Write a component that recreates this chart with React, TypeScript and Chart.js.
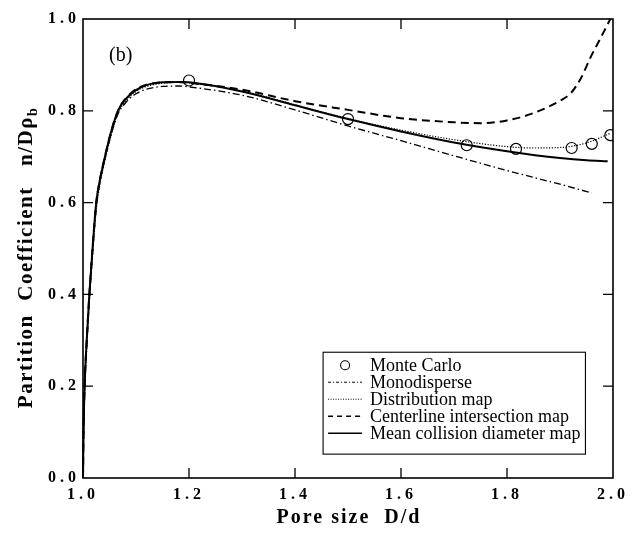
import React, { useEffect, useRef } from "react";
import { Chart, registerables } from "chart.js";

Chart.register(...registerables);

// ---- data ----
const xTickValues = [1.0, 1.2, 1.4, 1.6, 1.8, 2.0];
const yTickValues = [0.0, 0.2, 0.4, 0.6, 0.8, 1.0];

const monteCarloX = [1.2, 1.5, 1.724, 1.817, 1.922, 1.96, 1.995];
const monteCarloY = [0.866, 0.782, 0.725, 0.717, 0.719, 0.728, 0.747];

const monoX = [1.0, 1.001, 1.003, 1.007, 1.012, 1.018, 1.025, 1.032, 1.04, 1.052, 1.066, 1.08, 1.1, 1.12, 1.15, 1.18, 1.2, 1.3, 1.4, 1.5, 1.6, 1.7, 1.8, 1.9, 1.96];
const monoY = [0.0, 0.09, 0.19, 0.29, 0.39, 0.49, 0.59, 0.645, 0.688, 0.744, 0.793, 0.817, 0.837, 0.847, 0.853, 0.854, 0.852, 0.834, 0.802, 0.767, 0.735, 0.702, 0.67, 0.64, 0.621];

const distX = [1.0, 1.001, 1.003, 1.007, 1.012, 1.018, 1.025, 1.032, 1.04, 1.052, 1.066, 1.08, 1.1, 1.12, 1.15, 1.18, 1.2, 1.3, 1.4, 1.5, 1.6, 1.7, 1.8, 1.85, 1.9, 1.95, 1.995];
const distY = [0.0, 0.08, 0.18, 0.28, 0.385, 0.485, 0.585, 0.64, 0.685, 0.742, 0.795, 0.82, 0.842, 0.853, 0.86, 0.862, 0.861, 0.843, 0.813, 0.783, 0.758, 0.737, 0.722, 0.719, 0.72, 0.73, 0.751];

const centerX = [1.0, 1.001, 1.003, 1.007, 1.012, 1.018, 1.025, 1.032, 1.04, 1.052, 1.066, 1.08, 1.1, 1.12, 1.15, 1.18, 1.2, 1.3, 1.4, 1.5, 1.6, 1.7, 1.75, 1.8, 1.85, 1.9, 1.92, 1.94, 1.957, 1.975, 1.995];
const centerY = [0.0, 0.1, 0.2, 0.3, 0.4, 0.5, 0.6, 0.65, 0.693, 0.75, 0.8, 0.826, 0.847, 0.857, 0.862, 0.863, 0.861, 0.846, 0.821, 0.802, 0.784, 0.775, 0.773, 0.779, 0.795, 0.822, 0.838, 0.872, 0.915, 0.955, 1.0];

const meanX = [1.0, 1.001, 1.003, 1.007, 1.012, 1.018, 1.025, 1.032, 1.04, 1.052, 1.066, 1.08, 1.1, 1.12, 1.15, 1.18, 1.2, 1.3, 1.4, 1.5, 1.6, 1.7, 1.8, 1.9, 1.95, 1.99];
const meanY = [0.0, 0.1, 0.2, 0.3, 0.4, 0.5, 0.6, 0.65, 0.693, 0.75, 0.8, 0.825, 0.845, 0.856, 0.862, 0.863, 0.862, 0.842, 0.812, 0.782, 0.755, 0.731, 0.712, 0.697, 0.692, 0.69];

const legendLabels = [
  "Monte Carlo",
  "Monodisperse",
  "Distribution map",
  "Centerline intersection map",
  "Mean collision diameter map",
];

const xTitle = "Pore size  D/d";
const yTitleMain = "Partition  Coefficient   n/D\u03c1";
const yTitleSub = "b";
const panelLabel = "(b)";

const SERIF = "'Liberation Serif', 'DejaVu Serif', serif";

const pts = (xs: number[], ys: number[]) => xs.map((x, i) => ({ x, y: ys[i] }));

const paperPlugin = {
  id: "paper",
  beforeDraw(chart: any) {
    const ctx = chart.ctx;
    ctx.save();
    ctx.fillStyle = "#ffffff";
    ctx.fillRect(0, 0, chart.width, chart.height);
    ctx.restore();
    ctx.letterSpacing = "4px";
  },
  beforeDatasetsDraw(chart: any) {
    chart.ctx.letterSpacing = "0px";
  },
  afterDraw(chart: any) {
    const ctx = chart.ctx;
    ctx.letterSpacing = "0px";
    const { left, right, top, bottom } = chart.chartArea;
    const xs = chart.scales.x;
    const ys = chart.scales.y;
    ctx.save();
    ctx.strokeStyle = "#000";
    ctx.fillStyle = "#000";
    // frame
    ctx.lineWidth = 1.6;
    ctx.strokeRect(left, top, right - left, bottom - top);
    // inward ticks on all four sides
    const tl = 10;
    ctx.lineWidth = 1.3;
    ctx.beginPath();
    xTickValues.slice(1, -1).forEach((v) => {
      const p = xs.getPixelForValue(v);
      ctx.moveTo(p, bottom);
      ctx.lineTo(p, bottom - tl);
      ctx.moveTo(p, top);
      ctx.lineTo(p, top + tl);
    });
    yTickValues.slice(1, -1).forEach((v) => {
      const p = ys.getPixelForValue(v);
      ctx.moveTo(left, p);
      ctx.lineTo(left + tl, p);
      ctx.moveTo(right, p);
      ctx.lineTo(right - tl, p);
    });
    ctx.stroke();

    // panel label
    ctx.font = `20px ${SERIF}`;
    ctx.textAlign = "left";
    ctx.textBaseline = "middle";
    ctx.fillText(panelLabel, left + 26, top + 37);

    // x title
    ctx.letterSpacing = "2px";
    ctx.font = `bold 20px ${SERIF}`;
    ctx.textAlign = "center";
    ctx.textBaseline = "middle";
    ctx.fillText(xTitle, (left + right) / 2 + 1, bottom + 40);

    // y title (rotated, with subscript)
    ctx.save();
    ctx.translate(25, (top + bottom) / 2 + 9);
    ctx.rotate(-Math.PI / 2);
    ctx.letterSpacing = "1.5px";
    ctx.font = `bold 21px ${SERIF}`;
    const wMain = ctx.measureText(yTitleMain).width;
    ctx.font = `bold 14px ${SERIF}`;
    const wSub = ctx.measureText(yTitleSub).width;
    const startX = -(wMain + wSub) / 2;
    ctx.textAlign = "left";
    ctx.textBaseline = "alphabetic";
    ctx.font = `bold 21px ${SERIF}`;
    ctx.fillText(yTitleMain, startX, 7);
    ctx.font = `bold 14px ${SERIF}`;
    ctx.fillText(yTitleSub, startX + wMain, 12);
    ctx.restore();
    ctx.letterSpacing = "0px";

    // legend box
    const bx = xs.getPixelForValue(1.453);
    const bx2 = xs.getPixelForValue(1.948);
    const by = ys.getPixelForValue(0.274);
    const by2 = ys.getPixelForValue(0.052);
    ctx.lineWidth = 1.1;
    ctx.strokeRect(bx, by, bx2 - bx, by2 - by);
    const rowH = 17;
    const row0 = by + 13;
    const sx0 = bx + 5;
    const sx1 = bx + 39;
    const tx = bx + 47;
    ctx.font = `18px ${SERIF}`;
    ctx.textAlign = "left";
    ctx.textBaseline = "middle";
    legendLabels.forEach((lab, i) => {
      const y = row0 + i * rowH;
      ctx.fillText(lab, tx, y + 1);
      ctx.beginPath();
      if (i === 0) {
        ctx.lineWidth = 1.1;
        ctx.setLineDash([]);
        ctx.arc((sx0 + sx1) / 2, y, 4.5, 0, Math.PI * 2);
        ctx.stroke();
        return;
      }
      if (i === 1) {
        ctx.lineWidth = 1;
        ctx.setLineDash([3, 2, 1, 2]);
      } else if (i === 2) {
        ctx.lineWidth = 1;
        ctx.setLineDash([1, 1.5]);
      } else if (i === 3) {
        ctx.lineWidth = 1.3;
        ctx.setLineDash([5, 4]);
      } else {
        ctx.lineWidth = 1.5;
        ctx.setLineDash([]);
      }
      ctx.moveTo(sx0, y);
      ctx.lineTo(sx1, y);
      ctx.stroke();
      ctx.setLineDash([]);
    });
    ctx.restore();
  },
};

export default function App() {
  const ref = useRef<HTMLCanvasElement | null>(null);
  useEffect(() => {
    if (!ref.current) return;
    const lineBase = {
      type: "line" as const,
      showLine: true,
      pointRadius: 0,
      borderColor: "#000",
      fill: false,
      cubicInterpolationMode: "monotone" as const,
      clip: false as any,
    };
    const chart = new Chart(ref.current, {
      type: "scatter",
      data: {
        datasets: [
          {
            ...lineBase,
            label: legendLabels[1],
            data: pts(monoX, monoY),
            borderWidth: 1.3,
            borderDash: [7, 3, 1.5, 3],
          },
          {
            ...lineBase,
            label: legendLabels[2],
            data: pts(distX, distY),
            borderWidth: 1.2,
            borderDash: [1.2, 1.6],
          },
          {
            ...lineBase,
            label: legendLabels[3],
            data: pts(centerX, centerY),
            borderWidth: 2,
            borderDash: [8, 5],
          },
          {
            ...lineBase,
            label: legendLabels[4],
            data: pts(meanX, meanY),
            borderWidth: 2,
          },
          {
            type: "scatter" as const,
            label: legendLabels[0],
            data: pts(monteCarloX, monteCarloY),
            pointRadius: 5.5,
            pointBorderWidth: 1.2,
            pointBorderColor: "#000",
            pointBackgroundColor: "rgba(0,0,0,0)",
            showLine: false,
          },
        ] as any,
      },
      options: {
        animation: false,
        responsive: false,
        devicePixelRatio: 1,
        layout: { padding: { left: 0, top: 19, right: 27, bottom: 0 } },
        plugins: { legend: { display: false }, tooltip: { enabled: false } },
        scales: {
          x: {
            type: "linear",
            min: 1,
            max: 2,
            afterBuildTicks: (s: any) => {
              s.ticks = xTickValues.map((v) => ({ value: v }));
            },
            afterFit: (s: any) => {
              s.height = 66;
              s.paddingLeft = 0;
              s.paddingRight = 0;
            },
            grid: { display: false, drawTicks: false },
            border: { display: false },
            ticks: {
              color: "#000",
              padding: 7,
              maxRotation: 0,
              font: { family: SERIF, weight: "bold", size: 16 },
              callback: (v: any) => Number(v).toFixed(1),
            },
          },
          y: {
            type: "linear",
            min: 0,
            max: 1,
            afterBuildTicks: (s: any) => {
              s.ticks = yTickValues.map((v) => ({ value: v }));
            },
            afterFit: (s: any) => {
              s.width = 83;
              s.paddingTop = 0;
              s.paddingBottom = 0;
            },
            grid: { display: false, drawTicks: false },
            border: { display: false },
            ticks: {
              color: "#000",
              padding: 3,
              font: { family: SERIF, weight: "bold", size: 16 },
              callback: (v: any) => Number(v).toFixed(1),
            },
          },
        },
      } as any,
      plugins: [paperPlugin as any],
    });
    return () => chart.destroy();
  }, []);
  return (
    <div style={{ position: "fixed", left: 0, top: 0, width: 640, height: 544, background: "#fff" }}>
      <canvas ref={ref} width={640} height={544} style={{ width: 640, height: 544, display: "block" }} />
    </div>
  );
}
